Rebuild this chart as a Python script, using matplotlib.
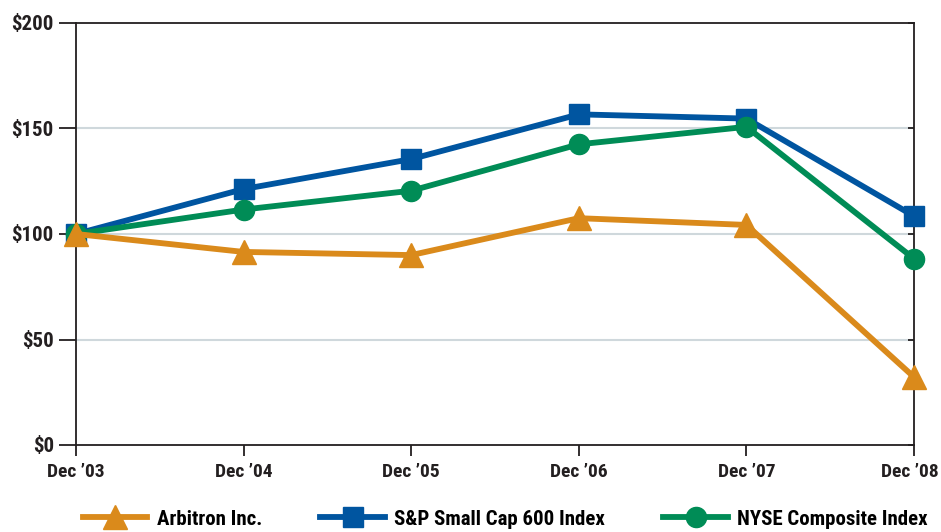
import matplotlib
matplotlib.use("Agg")
import matplotlib.pyplot as plt
import matplotlib.transforms as mtransforms
from matplotlib.lines import Line2D
from matplotlib import font_manager as fm

years = ["Dec \u201903", "Dec \u201904", "Dec \u201905", "Dec \u201906", "Dec \u201907", "Dec \u201908"]
arbitron = [100, 91.5, 90.0, 107.5, 104.3, 32.2]
sp600 = [100, 121.3, 135.5, 156.7, 154.7, 108.5]
nyse = [100, 111.6, 120.5, 142.5, 150.8, 88.3]
yticks = [0, 50, 100, 150, 200]
ylabels = ["$0", "$50", "$100", "$150", "$200"]
series_names = ["Arbitron Inc.", "S&P Small Cap 600 Index", "NYSE Composite Index"]

ORANGE = "#DA8A1B"
BLUE = "#0055A0"
GREEN = "#008C56"
GRID = "#CFD8DC"
DARK = "#231F20"

# pick a condensed bold font if one is installed
entries = fm.fontManager.ttflist
names = {f.name for f in entries}
family = ['DejaVu Sans']
stretch = 'normal'
for cand in ['Liberation Sans Narrow', 'Roboto Condensed', 'Open Sans Condensed', 'Noto Sans Condensed']:
    if cand in names:
        family = [cand, 'DejaVu Sans']
        break
else:
    cond = [f for f in entries if f.name == 'DejaVu Sans' and str(f.stretch) in ('condensed', 'semi-condensed', '87.5', '75')]
    if cond:
        stretch = 'condensed'

plt.rcParams['font.family'] = family
plt.rcParams['font.stretch'] = stretch
plt.rcParams['font.weight'] = 'bold'

fig = plt.figure(figsize=(9.41, 5.32), dpi=100)
ax = fig.add_axes([76/941, 1-445/532, (914-76)/941, (445-23)/532])

x = list(range(len(years)))
lw = 4.2
ax.plot(x, arbitron, color=ORANGE, lw=lw, marker='^', ms=17, clip_on=False, zorder=5)
ax.plot(x, nyse, color=GREEN, lw=lw, marker='o', ms=14.5, clip_on=False, zorder=4)
ax.plot(x, sp600, color=BLUE, lw=lw, marker='s', ms=14, clip_on=False, zorder=3)

ax.set_xlim(0, len(years)-1)
ax.set_ylim(0, 200)
ax.set_yticks(yticks)
ax.set_yticklabels(ylabels, fontsize=15, fontweight='bold', color=DARK)
ax.set_xticks(x)
ax.set_xticklabels(years, fontsize=14, fontweight='bold', color=DARK)
for yv in [50, 100, 150]:
    ax.axhline(yv, color=GRID, lw=1.5, zorder=1)

for s in ax.spines.values():
    s.set_color(DARK)
    s.set_linewidth(1.3)
ax.tick_params(axis='y', direction='out', length=12, width=1.3, color=DARK, pad=4)
ax.tick_params(axis='y', which='major', right=True, labelright=False)
ax.tick_params(axis='x', direction='out', length=8, width=1.3, color=DARK, pad=5)
for t in ax.yaxis.get_major_ticks():
    t.tick2line.set_markersize(4)
    t.tick2line.set_marker(matplotlib.markers.TICKLEFT)

# nudge the last x label so it stays inside the canvas
last = ax.get_xticklabels()[-1]
last.set_transform(last.get_transform() + mtransforms.ScaledTranslation(-4/100, 0, fig.dpi_scale_trans))

handles = [
    Line2D([], [], color=ORANGE, lw=lw, marker='^', ms=17),
    Line2D([], [], color=BLUE, lw=lw, marker='s', ms=14),
    Line2D([], [], color=GREEN, lw=lw, marker='o', ms=14.5),
]
fig.legend(handles, series_names, loc='center', bbox_to_anchor=(0.537, 0.024), ncol=3,
           frameon=False, handlelength=3.1, columnspacing=2.8,
           handletextpad=0.45, prop={'weight': 'bold', 'size': 15, 'family': family, 'stretch': stretch})

fig.savefig("out.png", dpi=100)
